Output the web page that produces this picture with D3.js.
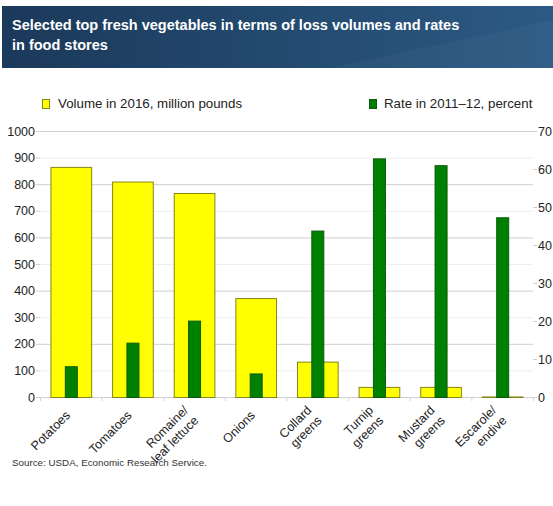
<!DOCTYPE html>
<html>
<head>
<meta charset="utf-8">
<script src="https://cdn.jsdelivr.net/npm/d3@7"></script>
<style>
  html, body { margin: 0; padding: 0; background: #fff; }
  svg { display: block; font-family: "Liberation Sans", Arial, Helvetica, sans-serif; }
</style>
</head>
<body>
<svg id="chart" width="553" height="506"></svg>
<script>
// Loss data for fresh vegetables in food stores
const categories = [
  ["Potatoes"], ["Tomatoes"], ["Romaine/", "leaf lettuce"], ["Onions"],
  ["Collard", "greens"], ["Turnip", "greens"], ["Mustard", "greens"], ["Escarole/", "endive"]
];
const volume2016 = [865, 810, 767, 372, 133, 38, 38, 2];      // million pounds
const rate201112 = [8.1, 14.3, 20.1, 6.2, 43.8, 62.8, 61.0, 47.3]; // percent
const leftTicks = [0, 100, 200, 300, 400, 500, 600, 700, 800, 900, 1000];
const rightTicks = [0, 10, 20, 30, 40, 50, 60, 70];
const titleLines = [
  "Selected top fresh vegetables in terms of loss volumes and rates",
  "in food stores"
];
const legendLabels = ["Volume in 2016, million pounds", "Rate in 2011\u201312, percent"];
const sourceText = "Source: USDA, Economic Research Service.";

const svg = d3.select("#chart");

// Header banner
const defs = svg.append("defs");
const grad = defs.append("linearGradient").attr("id", "hdr").attr("x1", "0").attr("x2", "1").attr("y1", "0").attr("y2", "0");
grad.append("stop").attr("offset", "0%").attr("stop-color", "#1b395a");
grad.append("stop").attr("offset", "100%").attr("stop-color", "#2c5a84");
svg.append("rect").attr("x", 2).attr("y", 6).attr("width", 551).attr("height", 62).attr("fill", "url(#hdr)");
svg.append("path")
  .attr("d", "M330,68 L553,20 L553,68 Z")
  .attr("fill", "#ffffff").attr("opacity", 0.03);
svg.append("text")
  .attr("x", 12).attr("y", 30)
  .attr("fill", "#fff").attr("font-size", 14.5).attr("font-weight", "bold")
  .selectAll("tspan").data(titleLines).join("tspan")
  .attr("x", 12).attr("dy", (d, i) => i === 0 ? 0 : 20).text(d => d);

// Scales
const x0 = 40, x1 = 533, yTop = 131, yBot = 397;
const x = d3.scaleBand().domain(d3.range(categories.length)).range([x0, x1]);
const yL = d3.scaleLinear().domain([0, 1000]).range([yBot, yTop]);
const yR = d3.scaleLinear().domain([0, 70]).range([yBot, yTop]);

// Gridlines
svg.append("g").selectAll("line").data(leftTicks).join("line")
  .attr("x1", x0).attr("x2", x1)
  .attr("y1", d => yL(d) + 0.5).attr("y2", d => yL(d) + 0.5)
  .attr("stroke", d => (d % 200 === 0) ? "#cfcfcf" : "#efefef")
  .attr("stroke-width", 1);

// Left axis
const leftAxis = svg.append("g").attr("transform", `translate(${x0},0)`)
  .call(d3.axisLeft(yL).tickValues(leftTicks).tickFormat(d3.format("d")).tickSize(4).tickPadding(1));
leftAxis.select(".domain").remove();
leftAxis.selectAll("line").attr("stroke", "#cfcfcf");
leftAxis.selectAll("text").attr("font-size", 12.5).attr("fill", "#222").attr("font-family", "Liberation Sans, Arial, sans-serif");

// Right axis
const rightAxis = svg.append("g").attr("transform", `translate(${x1},0)`)
  .call(d3.axisRight(yR).tickValues(rightTicks).tickFormat(d3.format("d")).tickSize(4).tickPadding(1));
rightAxis.select(".domain").remove();
rightAxis.selectAll("line").attr("stroke", "#cfcfcf");
rightAxis.selectAll("text").attr("font-size", 12.5).attr("fill", "#222").attr("font-family", "Liberation Sans, Arial, sans-serif");

// Category tick marks under the baseline
svg.append("g").selectAll("line").data(d3.range(categories.length + 1)).join("line")
  .attr("x1", i => (i < categories.length ? x(i) : x1) + 0.5)
  .attr("x2", i => (i < categories.length ? x(i) : x1) + 0.5)
  .attr("y1", yBot).attr("y2", yBot + 4)
  .attr("stroke", "#d5d5d5");

// Volume bars
const yw = x.bandwidth() * 0.66;
svg.append("g").selectAll("rect").data(volume2016).join("rect")
  .attr("x", (d, i) => x(i) + (x.bandwidth() - yw) / 2 + 0.5)
  .attr("width", yw)
  .attr("y", d => yL(d) + 0.5)
  .attr("height", d => yBot - yL(d))
  .attr("fill", "#ffff00").attr("stroke", "#85851a").attr("stroke-width", 1);

// Rate bars
const gw = 12;
svg.append("g").selectAll("rect").data(rate201112).join("rect")
  .attr("x", (d, i) => x(i) + (x.bandwidth() - gw) / 2 + 0.5)
  .attr("width", gw)
  .attr("y", d => yR(d) + 0.5)
  .attr("height", d => yBot - yR(d))
  .attr("fill", "#008000").attr("stroke", "#0b5a0b").attr("stroke-width", 1);

// Category labels, rotated
const lab = svg.append("g").selectAll("text").data(categories).join("text")
  .attr("transform", (d, i) => `translate(${x(i) + x.bandwidth() / 2 - 3},${yBot + 16}) rotate(-45)`)
  .attr("text-anchor", "end")
  .attr("font-size", 12.5).attr("fill", "#222");
lab.selectAll("tspan").data(d => d.map((t, k) => ({ t, k, n: d.length }))).join("tspan")
  .attr("x", 0)
  .attr("y", d => (d.k - (d.n - 1) / 2) * 14.5)
  .attr("dy", "0.35em")
  .text(d => d.t);

// Legend
const legend = svg.append("g");
legend.append("rect").attr("x", 42.5).attr("y", 99.5).attr("width", 7).attr("height", 9)
  .attr("fill", "#ffff00").attr("stroke", "#85851a");
legend.append("text").attr("x", 58).attr("y", 108).attr("font-size", 13.3).attr("fill", "#222").text(legendLabels[0]);
legend.append("rect").attr("x", 369.5).attr("y", 99.5).attr("width", 7).attr("height", 9)
  .attr("fill", "#008000").attr("stroke", "#0b5a0b");
legend.append("text").attr("x", 384).attr("y", 108).attr("font-size", 13.3).attr("fill", "#222").text(legendLabels[1]);

// Source note
svg.append("text").attr("x", 12).attr("y", 466).attr("font-size", 9.8).attr("fill", "#333").text(sourceText);
</script>
</body>
</html>
